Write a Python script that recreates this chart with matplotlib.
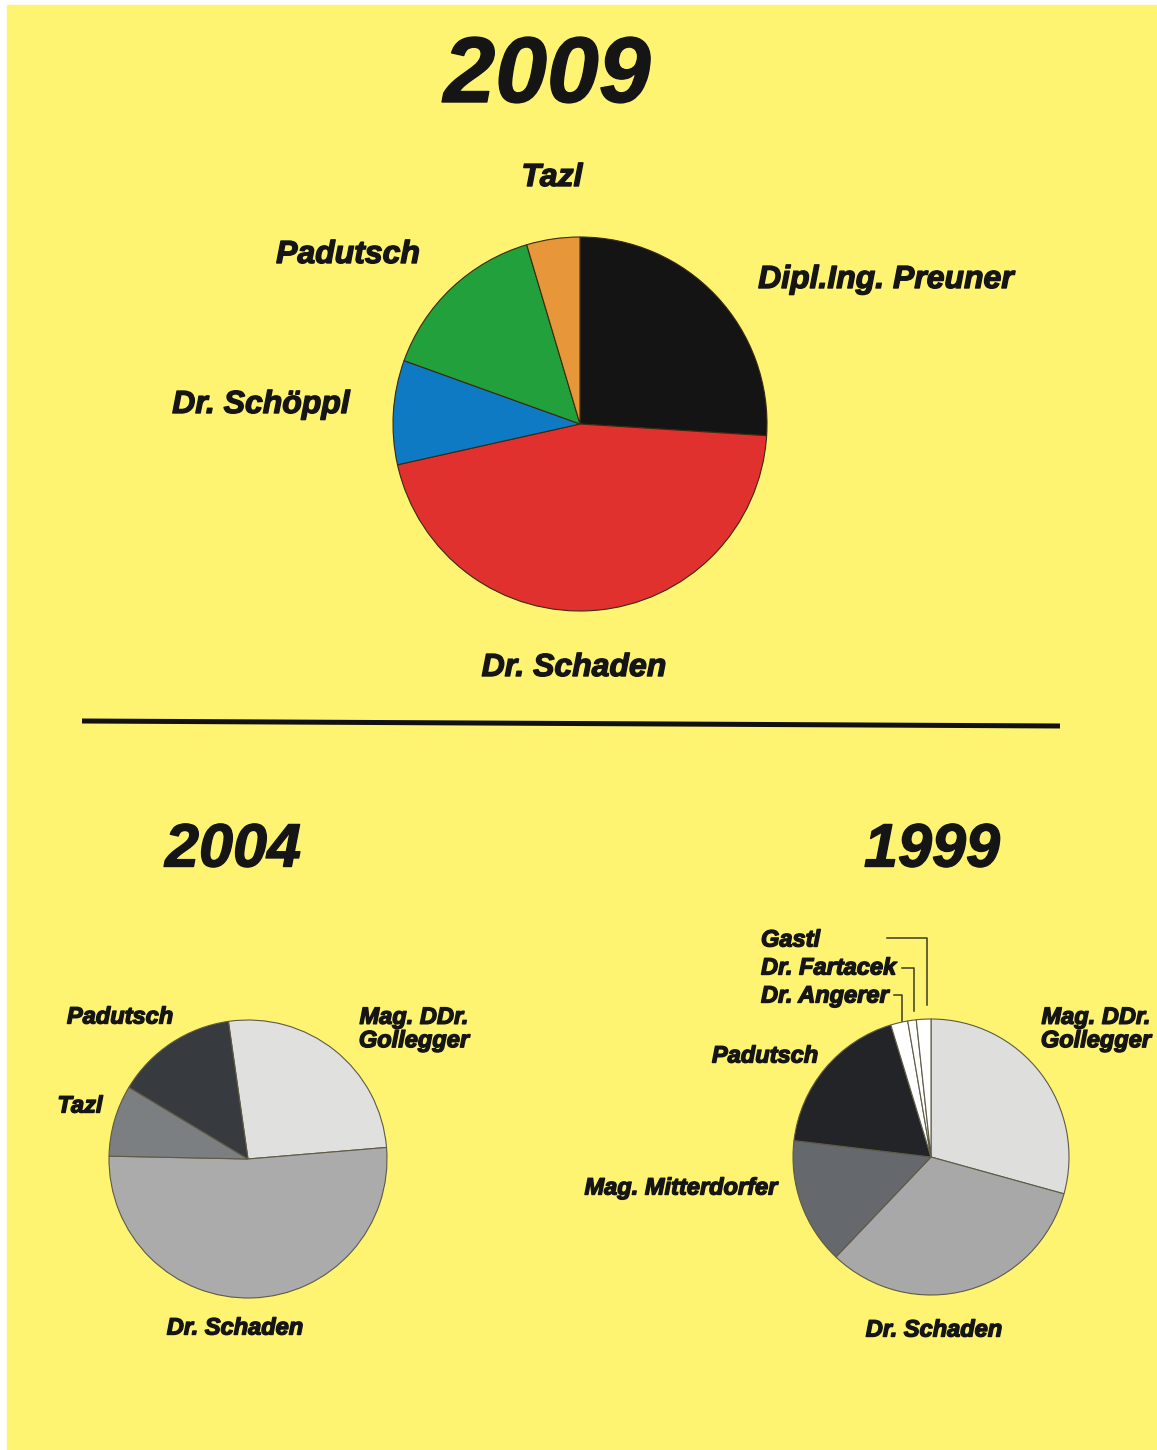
import matplotlib.pyplot as plt
import matplotlib.patheffects as pe

# canvas in pixels: 1157 x 1450
W, H = 1157, 1450
BG = '#fef472'

# 2009
names_2009 = ['Dipl.Ing. Preuner', 'Dr. Schaden', 'Dr. Schöppl', 'Padutsch', 'Tazl']
share_2009 = [26.0, 45.5, 9.0, 14.9, 4.6]
cols_2009 = ['#141414', '#e0312e', '#0e7ac4', '#22a03c', '#e8963a']

# 2004
names_2004 = ['Mag. DDr.\nGollegger', 'Dr. Schaden', 'Tazl', 'Padutsch']
share_2004 = [25.9, 51.6, 8.3, 14.1]
cols_2004 = ['#e0e0de', '#ababab', '#7c7f82', '#373a3e']

# 1999
names_1999 = ['Mag. DDr.\nGollegger', 'Dr. Schaden', 'Mag. Mitterdorfer', 'Padutsch',
              'Dr. Angerer', 'Dr. Fartacek', 'Gastl']
share_1999 = [29.3, 32.8, 14.8, 18.4, 2.0, 1.0, 1.7]
cols_1999 = ['#dededc', '#a8a8a8', '#65686c', '#222427', '#ffffff', '#ffffff', '#ffffff']

fig = plt.figure(figsize=(W / 100, H / 100), dpi=100)
fig.patch.set_facecolor('white')
ax = fig.add_axes([0, 0, 1, 1])

def Y(y):
    return H - y

# yellow sheet with thin white margin top/left
ax.add_patch(plt.Rectangle((7, -10), W + 10, H + 5, color=BG, zorder=0))

bold = [pe.withStroke(linewidth=1.0, foreground='#151515')]
txt = dict(family='Liberation Sans', weight='bold', style='italic', color='#151515',
           ha='center', va='center', path_effects=bold)

# 2009 pie
ax.pie(share_2009, colors=cols_2009, startangle=90, counterclock=False,
       center=(580, Y(424)), radius=187,
       wedgeprops=dict(edgecolor='#3a2a10', linewidth=0.8))
ax.text(547, Y(78), '2009', fontsize=67, **txt)
ax.text(552, Y(178), 'Tazl', fontsize=23, **txt)
ax.text(348, Y(255), 'Padutsch', fontsize=23, **txt)
ax.text(886, Y(280), 'Dipl.Ing. Preuner', fontsize=23, **txt)
ax.text(261, Y(405), 'Dr. Schöppl', fontsize=23, **txt)
ax.text(574, Y(668), 'Dr. Schaden', fontsize=23, **txt)

# separator
ax.plot([82, 1060], [Y(721), Y(726)], color='#111111', lw=3.6, solid_capstyle='butt')

# 2004 pie
ax.pie(share_2004, colors=cols_2004, startangle=98.1, counterclock=False,
       center=(248, Y(1159)), radius=139,
       wedgeprops=dict(edgecolor='#5e5a45', linewidth=0.8))
ax.text(233, Y(851), '2004', fontsize=44, **txt)
ax.text(120, Y(1017), 'Padutsch', fontsize=17, **txt)
ax.text(80, Y(1106), 'Tazl', fontsize=17, **txt)
ax.text(414, Y(1029), 'Mag. DDr.\nGollegger', fontsize=17, linespacing=1.02, **txt)
ax.text(235, Y(1328), 'Dr. Schaden', fontsize=17, **txt)

# 1999 pie
ax.pie(share_1999, colors=cols_1999, startangle=90, counterclock=False,
       center=(931, Y(1157)), radius=138,
       wedgeprops=dict(edgecolor='#5e5a45', linewidth=0.8))
ax.text(932, Y(851), '1999', fontsize=44, **txt)
ax.text(1096, Y(1029), 'Mag. DDr.\nGollegger', fontsize=17, linespacing=1.02, **txt)
ax.text(765, Y(1056), 'Padutsch', fontsize=17, **txt)
ax.text(681, Y(1188), 'Mag. Mitterdorfer', fontsize=17, **txt)
ax.text(934, Y(1330), 'Dr. Schaden', fontsize=17, **txt)

left = dict(txt, ha='left')
ax.text(761, Y(940), 'Gastl', fontsize=17, **left)
ax.text(761, Y(968), 'Dr. Fartacek', fontsize=17, **left)
ax.text(761, Y(996), 'Dr. Angerer', fontsize=17, **left)

lead = dict(color='#3d3a22', lw=1.1)
ax.plot([887, 926.5, 926.5], [Y(938), Y(938), Y(1005)], **lead)
ax.plot([902, 913.5, 913.5], [Y(968), Y(968), Y(1011)], **lead)
ax.plot([894, 901.5, 901.5], [Y(995), Y(995), Y(1021)], **lead)

ax.set_xlim(0, W)
ax.set_ylim(0, H)
ax.set_aspect('auto')
ax.axis('off')

fig.savefig('out.png', dpi=100, facecolor=fig.get_facecolor())
